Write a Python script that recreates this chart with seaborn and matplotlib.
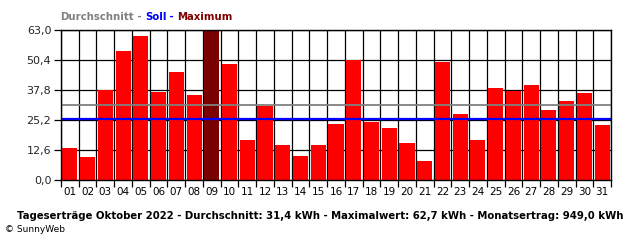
import matplotlib
matplotlib.use("Agg")
import matplotlib.pyplot as plt
import seaborn as sns
import pandas as pd
import numpy as np

days = [f"{i:02d}" for i in range(1, 32)]
values = [13.6, 9.8, 37.8, 54.1, 60.4, 36.8, 45.5, 35.5, 62.7, 48.6,
          16.6, 31.1, 14.9, 10.2, 14.5, 23.7, 50.4, 24.2, 22.0, 15.7,
          8.1, 49.4, 27.9, 16.6, 38.5, 37.2, 39.7, 29.6, 33.0, 36.4, 22.9]
average = 31.4
target = 25.8
yticks = [0.0, 12.6, 25.2, 37.8, 50.4, 63.0]
ytick_labels = ["0,0", "12,6", "25,2", "37,8", "50,4", "63,0"]
legend_parts = [("Durchschnitt", "#808080"), (" - ", "#808080"), ("Soll", "#0000ff"),
                (" - ", "#0000ff"), ("Maximum", "#800000")]
footer = "Tageserträge Oktober 2022 - Durchschnitt: 31,4 kWh - Maximalwert: 62,7 kWh - Monatsertrag: 949,0 kWh"

sns.set_theme(style="white")
plt.rcParams['font.family'] = ['DejaVu Sans']

df = pd.DataFrame({"day": days, "value": values})
maxv = max(values)
df["kind"] = ["max" if v == maxv else "normal" for v in values]

fig = plt.figure(figsize=(6.4, 2.4), dpi=100)
ax = fig.add_axes([61/640, 60/240, 550/640, 150/240])

sns.barplot(data=df, x="day", y="value", hue="kind", palette={"normal": "#ff0000", "max": "#7a0000"},
            width=0.85, dodge=False, legend=False, ax=ax, saturation=1)
for p in ax.patches:
    p.set_zorder(3)
    p.set_linewidth(0)

ax.set_xlim(-0.5, len(days) - 0.5)
ax.set_ylim(0, 63)
ax.set_yticks(yticks)
ax.set_yticklabels(ytick_labels)
ax.set_xlabel("")
ax.set_ylabel("")

# grid
for y in yticks:
    ax.axhline(y, color="black", lw=0.9, zorder=1)
for i in range(len(days) + 1):
    ax.axvline(i - 0.5, color="black", lw=0.9, zorder=1)
ax.set_xticks(np.arange(len(days) + 1) - 0.5, minor=True)
ax.tick_params(axis="x", which="minor", length=5, width=0.9, color="black", direction="out", bottom=True)
ax.tick_params(axis="x", which="major", length=0, pad=5, labelsize=7.5, colors="black")
ax.tick_params(axis="y", which="major", length=5, width=0.9, color="black", direction="out", left=True, labelsize=8, pad=2)

ax.axhline(average, color="#808080", lw=1.3, zorder=4)
ax.axhline(target, color="#0000ff", lw=1.6, zorder=4)

for s in ax.spines.values():
    s.set_color("black")
    s.set_linewidth(1.0)
    s.set_zorder(5)

# multicolor legend line
fig.canvas.draw()
renderer = fig.canvas.get_renderer()
x = 60 / 640
for txt, col in legend_parts:
    t = fig.text(x, 1 - 17/240, txt, color=col, fontsize=7.3, fontweight="bold", va="center", ha="left")
    bb = t.get_window_extent(renderer)
    x += bb.width / 640

ft = fig.text(320/640, 1 - 216/240, footer, fontsize=8, fontweight="bold", ha="center", va="center", color="black")
bb = ft.get_window_extent(renderer)
ft.set_fontsize(8 * 604 / bb.width)
fig.text(5/640, 1 - 229/240, "© SunnyWeb", fontsize=6.5, ha="left", va="center", color="black")

fig.savefig("out.png", dpi=100)
